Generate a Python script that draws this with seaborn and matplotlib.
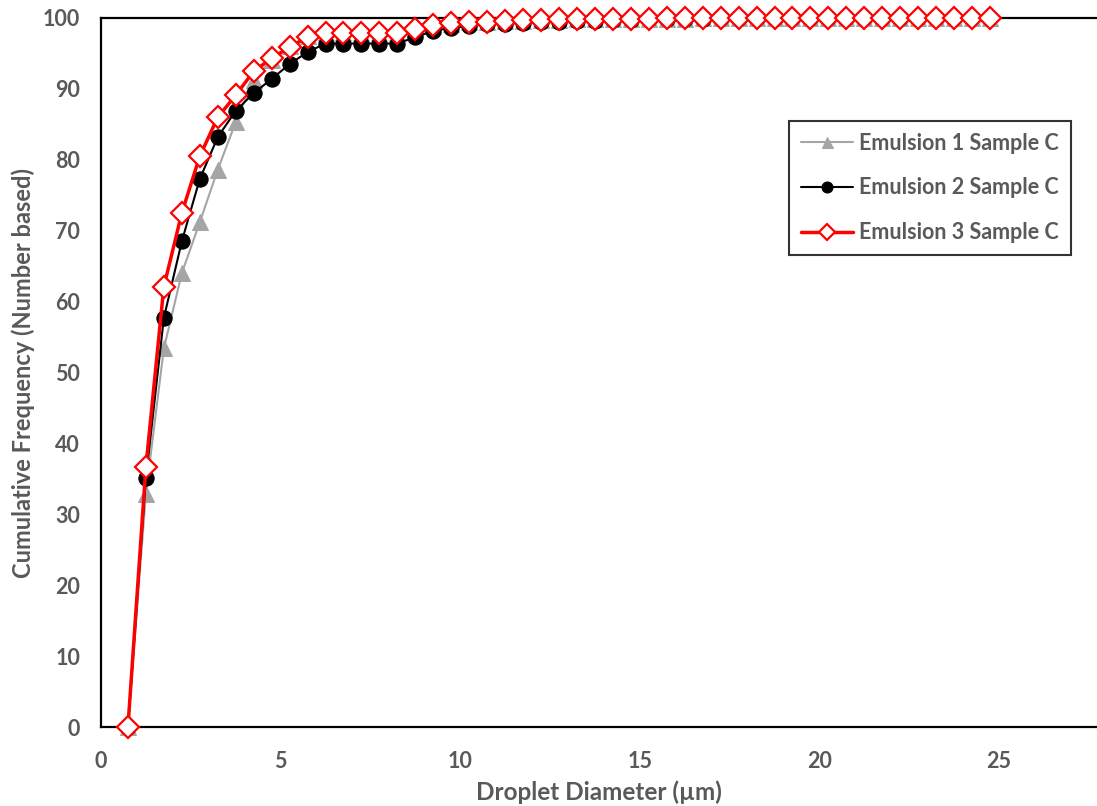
import numpy as np
import pandas as pd
import matplotlib
matplotlib.use("Agg")
import matplotlib.pyplot as plt
import seaborn as sns

# ---- data ----
diam_1 = [0.75 + 0.5 * i for i in range(49)]
emulsion_1 = [0, 32.9, 53.4, 64.0, 71.2, 78.6, 85.3, 91.3, 94.1, 96.0,
              97.4, 97.9, 97.9, 97.9, 97.9, 97.9, 98.4, 98.9, 99.2, 99.4,
              99.5, 99.6, 99.6, 99.7, 99.7, 99.8, 99.8, 99.8, 99.9, 99.9,
              99.9, 99.9, 100, 100, 100, 100, 100, 100, 100, 100,
              100, 100, 100, 100, 100, 100, 100, 100, 100]
diam_2 = [0.75 + 0.5 * i for i in range(46)]
emulsion_2 = [0, 35.1, 57.7, 68.5, 77.3, 83.2, 86.9, 89.4, 91.4, 93.5,
              95.2, 96.4, 96.4, 96.4, 96.4, 96.4, 97.3, 98.2, 98.6, 98.9,
              99.1, 99.2, 99.3, 99.4, 99.5, 99.6, 99.6, 99.7, 99.7, 99.8,
              99.8, 99.9, 99.9, 100, 100, 100, 100, 100, 100, 100,
              100, 100, 100, 100, 100, 100]
diam_3 = [0.75 + 0.5 * i for i in range(49)]
emulsion_3 = [0, 36.7, 62.1, 72.5, 80.5, 86.0, 89.1, 92.5, 94.3, 95.9,
              97.3, 97.9, 97.9, 97.9, 97.9, 97.9, 98.5, 99.0, 99.3, 99.4,
              99.5, 99.6, 99.7, 99.7, 99.8, 99.8, 99.8, 99.9, 99.9, 99.9,
              100, 100, 100, 100, 100, 100, 100, 100, 100, 100,
              100, 100, 100, 100, 100, 100, 100, 100, 100]
labels = ["Emulsion 1 Sample C", "Emulsion 2 Sample C", "Emulsion 3 Sample C"]
x_ticks = [0, 5, 10, 15, 20, 25]
y_ticks = [0, 10, 20, 30, 40, 50, 60, 70, 80, 90, 100]

sns.set_style("white")
plt.rcParams['font.family'] = ['Lato', 'DejaVu Sans']
TXT = "#595959"

fig = plt.figure(figsize=(10.97, 8.06), dpi=100)
ax = fig.add_axes([101 / 1097, 1 - 727 / 806, 1 - 101 / 1097, (727 - 18) / 806])

df1 = pd.DataFrame({"x": diam_1, "y": emulsion_1})
df2 = pd.DataFrame({"x": diam_2, "y": emulsion_2})
df3 = pd.DataFrame({"x": diam_3, "y": emulsion_3})

sns.lineplot(data=df1, x="x", y="y", ax=ax, color="#A5A5A5", lw=1.5,
             marker="^", markersize=11, markeredgecolor="#A5A5A5",
             markerfacecolor="#A5A5A5", label=labels[0], clip_on=False, zorder=3)
sns.lineplot(data=df2, x="x", y="y", ax=ax, color="black", lw=1.5,
             marker="o", markersize=11, markeredgecolor="black",
             markerfacecolor="black", label=labels[1], clip_on=False, zorder=4)
sns.lineplot(data=df3, x="x", y="y", ax=ax, color="#FF0000", lw=2.5,
             marker="D", markersize=11, markeredgecolor="#FF0000",
             markerfacecolor="white", markeredgewidth=1.6, label=labels[2],
             clip_on=False, zorder=5)

ax.set_xlim(0, (1097 - 101) / 35.92)
ax.set_ylim(0, 100)
ax.set_xticks(x_ticks)
ax.set_yticks(y_ticks)
ax.tick_params(axis="both", direction="out", length=6, width=1.5, color="black",
               labelsize=15.5, labelcolor=TXT)
ax.tick_params(axis="y", pad=9)
ax.tick_params(axis="x", pad=11)
for lab in ax.get_xticklabels() + ax.get_yticklabels():
    lab.set_fontweight("bold")

for s in ["left", "bottom", "top"]:
    ax.spines[s].set_visible(True)
    ax.spines[s].set_color("black")
    ax.spines[s].set_linewidth(1.6)
ax.spines["right"].set_visible(False)

ax.set_xlabel("Droplet Diameter (µm)", fontsize=17.5, fontweight="bold", color=TXT, labelpad=6)
ax.set_ylabel("Cumulative Frequency (Number based)", fontsize=17, fontweight="bold",
              color=TXT, labelpad=6)

leg = ax.legend(loc="upper left", bbox_to_anchor=(0.680, 0.870), frameon=True,
                fancybox=False, edgecolor="black", fontsize=15.5,
                handlelength=2.4, labelspacing=1.1, borderpad=0.55,
                handletextpad=0.3, markerscale=0.72)
leg.get_frame().set_linewidth(1.5)
for t in leg.get_texts():
    t.set_color(TXT)
    t.set_fontweight("bold")

fig.savefig("out.png", dpi=100)
